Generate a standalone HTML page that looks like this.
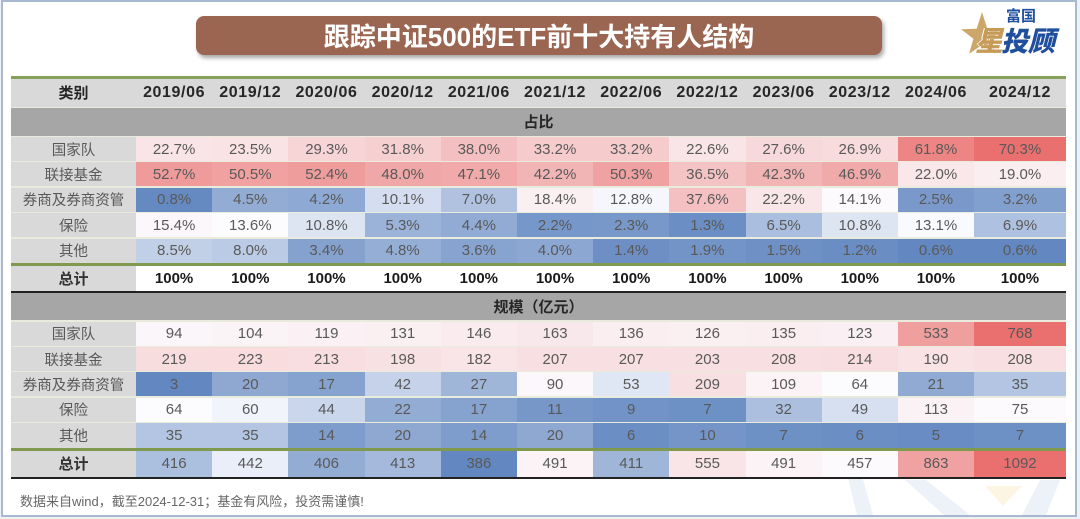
<!DOCTYPE html>
<html><head><meta charset="utf-8">
<style>
html,body{margin:0;padding:0;width:1080px;height:519px;overflow:hidden;background:#eef1f6;}
*{box-sizing:border-box;}
.frame{position:absolute;left:1px;top:0px;width:1076px;height:517px;border:2px solid #a8b8cf;background:#fff;}
.abs{position:absolute;}
.row{position:absolute;left:11px;width:1055px;display:grid;grid-template-columns:125px repeat(11,76.2px) 91.8px;}
.row>div{display:flex;align-items:center;justify-content:center;white-space:nowrap;font-family:"Liberation Sans","Noto Sans CJK SC",sans-serif;font-size:15px;color:#595959;}
.row>div.lab{background:#d9d9d9;font-size:14.5px;color:#595959;}
.hdr>div{background:#d9d9d9;font-weight:bold;font-size:16px;letter-spacing:0.6px;color:#262626;}
.hdr>div.lab{font-size:15px;color:#262626;font-weight:bold;letter-spacing:0;}
.tot>div{background:#fff;font-weight:bold;color:#1a1a1a;}
.tot>div.lab{font-weight:bold;color:#333;font-size:15px;}
.tot2>div.lab{font-weight:bold;color:#333;font-size:15px;}
.sec{position:absolute;left:11px;width:1055px;background:#a6a6a6;display:flex;align-items:center;justify-content:center;font-family:"Liberation Sans","Noto Sans CJK SC",sans-serif;font-weight:bold;font-size:15px;color:#262626;}
.line{position:absolute;left:11px;width:1055px;}
</style></head><body>
<div class="frame"></div>

<!-- watermark -->
<svg class="abs" style="left:0;top:0" width="1080" height="519">
<polygon points="848,478 862,476 873,515 857,515" fill="#edf1f8"/>
<polygon points="905,480 926,480 970,515 944,515" fill="#edf1f8"/>
<polygon points="985,486 1022,486 1003,506" fill="#fdf5e4"/>
<polygon points="1040,480 1060,480 1046,515 1022,515" fill="#edf1f8"/>
</svg>

<!-- title banner -->
<div class="abs" style="left:196px;top:16px;width:686px;height:39px;background:#9b6651;border-radius:8px;box-shadow:2px 3px 4px rgba(0,0,0,0.35);display:flex;align-items:center;justify-content:center;font-family:'Liberation Sans','Noto Sans CJK SC',sans-serif;font-weight:bold;font-size:26px;color:#fff;">跟踪中证500的ETF前十大持有人结构</div>

<!-- logo -->
<svg class="abs" style="left:0;top:0" width="1080" height="70">
<polygon points="982,12 987.3,28.7 1002.9,29.2 990.6,38.8 994.9,53.8 982,45 969.1,53.8 973.4,38.8 961.1,29.2 976.7,28.7" fill="#cda76a"/>
</svg>
<div class="abs" style="left:1006px;top:7px;font-family:'Noto Sans CJK SC',sans-serif;font-weight:bold;font-size:15px;line-height:18px;color:#1f4f9d;">富国</div>
<div class="abs" style="left:975px;top:25px;font-family:'Noto Sans CJK SC',sans-serif;font-weight:900;font-size:28px;line-height:30px;color:#c59b57;font-style:italic;text-shadow:1px 0 0 #fff,-1px 0 0 #fff;">星</div>
<div class="abs" style="left:1001px;top:25px;font-family:'Noto Sans CJK SC',sans-serif;font-weight:900;font-size:27px;line-height:30px;color:#1f4f9d;font-style:italic;">投顾</div>

<!-- table background for separators -->
<div class="line" style="top:78px;height:399px;background:#e9ecdc;"></div>

<!-- header -->
<div class="line" style="top:76px;height:2.5px;background:#86a05a;"></div>
<div class="row hdr" style="top:78.5px;height:28px;">
<div class="lab">类别</div><div>2019/06</div><div>2019/12</div><div>2020/06</div><div>2020/12</div><div>2021/06</div><div>2021/12</div><div>2022/06</div><div>2022/12</div><div>2023/06</div><div>2023/12</div><div>2024/06</div><div>2024/12</div>
</div>

<div class="sec" style="top:108px;height:27.5px;">占比</div>

<div class="row" style="top:137px;height:24px;">
<div class="lab">国家队</div>
<div style="background:#f9e5e7">22.7%</div><div style="background:#f9e3e5">23.5%</div><div style="background:#f7d5d6">29.3%</div><div style="background:#f6cfd0">31.8%</div><div style="background:#f4bfc0">38.0%</div><div style="background:#f5cbcc">33.2%</div><div style="background:#f5cbcc">33.2%</div><div style="background:#f9e5e8">22.6%</div><div style="background:#f7d9db">27.6%</div><div style="background:#f8dbdd">26.9%</div><div style="background:#ec8584">61.8%</div><div style="background:#e9706e">70.3%</div>
</div>
<div class="row" style="top:162.4px;height:24px;">
<div class="lab">联接基金</div>
<div style="background:#ef9b9b">52.7%</div><div style="background:#f0a1a0">50.5%</div><div style="background:#ef9c9c">52.4%</div><div style="background:#f0a7a7">48.0%</div><div style="background:#f1a9a9">47.1%</div><div style="background:#f2b5b6">42.2%</div><div style="background:#f0a1a1">50.3%</div><div style="background:#f4c3c4">36.5%</div><div style="background:#f2b5b5">42.3%</div><div style="background:#f1aaaa">46.9%</div><div style="background:#f9e7e9">22.0%</div><div style="background:#faeef1">19.0%</div>
</div>
<div class="row" style="top:187.8px;height:24px;">
<div class="lab">券商及券商资管</div>
<div style="background:#658ac2">0.8%</div><div style="background:#92acd4">4.5%</div><div style="background:#8ea9d3">4.2%</div><div style="background:#d5def0">10.1%</div><div style="background:#b0c2e0">7.0%</div><div style="background:#faf0f2">18.4%</div><div style="background:#f5f7fc">12.8%</div><div style="background:#f4c0c1">37.6%</div><div style="background:#f9e6e9">22.2%</div><div style="background:#fcfafd">14.1%</div><div style="background:#7a99ca">2.5%</div><div style="background:#82a0ce">3.2%</div>
</div>
<div class="row" style="top:213.2px;height:24px;">
<div class="lab">保险</div>
<div style="background:#fbf7fa">15.4%</div><div style="background:#fcfbfe">13.6%</div><div style="background:#dde5f3">10.8%</div><div style="background:#9bb3d8">5.3%</div><div style="background:#91abd4">4.4%</div><div style="background:#7697c9">2.2%</div><div style="background:#7798c9">2.3%</div><div style="background:#6b8ec4">1.3%</div><div style="background:#aabee0">6.5%</div><div style="background:#dde5f3">10.8%</div><div style="background:#f9fafe">13.1%</div><div style="background:#afc1e0">6.9%</div>
</div>
<div class="row" style="top:238.6px;height:24.4px;">
<div class="lab">其他</div>
<div style="background:#c2d0e7">8.5%</div><div style="background:#bccbe5">8.0%</div><div style="background:#85a2cf">3.4%</div><div style="background:#95aed5">4.8%</div><div style="background:#87a3d0">3.6%</div><div style="background:#8ca7d2">4.0%</div><div style="background:#6d8fc5">1.4%</div><div style="background:#7394c7">1.9%</div><div style="background:#6e90c5">1.5%</div><div style="background:#6a8ec4">1.2%</div><div style="background:#6388c1">0.6%</div><div style="background:#6388c1">0.6%</div>
</div>
<div class="line" style="top:263px;height:3px;background:#7f9a4e;"></div>
<div class="row tot" style="top:266px;height:24.5px;">
<div class="lab">总计</div>
<div>100%</div><div>100%</div><div>100%</div><div>100%</div><div>100%</div><div>100%</div><div>100%</div><div>100%</div><div>100%</div><div>100%</div><div>100%</div><div>100%</div>
</div>
<div class="line" style="top:290.5px;height:2px;background:#222;"></div>

<div class="sec" style="top:292.5px;height:27.5px;">规模（亿元）</div>

<div class="row" style="top:321.6px;height:24px;">
<div class="lab">国家队</div>
<div style="background:#fbf6f9">94</div><div style="background:#fbf4f7">104</div><div style="background:#fbf1f4">119</div><div style="background:#faeff1">131</div><div style="background:#faecee">146</div><div style="background:#f9e8eb">163</div><div style="background:#faeef0">136</div><div style="background:#faf0f2">126</div><div style="background:#faeef0">135</div><div style="background:#faf0f3">123</div><div style="background:#ef9f9e">533</div><div style="background:#e9706e">768</div>
</div>
<div class="row" style="top:347px;height:24px;">
<div class="lab">联接基金</div>
<div style="background:#f8dddf">219</div><div style="background:#f8dcde">223</div><div style="background:#f8dee0">213</div><div style="background:#f8e1e3">198</div><div style="background:#f9e4e7">182</div><div style="background:#f8e0e2">207</div><div style="background:#f8e0e2">207</div><div style="background:#f8e0e2">203</div><div style="background:#f8dfe1">208</div><div style="background:#f8dee0">214</div><div style="background:#f9e3e5">190</div><div style="background:#f8dfe1">208</div>
</div>
<div class="row" style="top:372.4px;height:24px;">
<div class="lab">券商及券商资管</div>
<div style="background:#6388c1">3</div><div style="background:#8ea8d2">20</div><div style="background:#86a3cf">17</div><div style="background:#c5d2e9">42</div><div style="background:#9fb6d9">27</div><div style="background:#fbf7fa">90</div><div style="background:#e0e7f4">53</div><div style="background:#f8dfe1">209</div><div style="background:#fbf3f6">109</div><div style="background:#fcfcff">64</div><div style="background:#90aad3">21</div><div style="background:#b3c5e2">35</div>
</div>
<div class="row" style="top:397.8px;height:24px;">
<div class="lab">保险</div>
<div style="background:#fcfcff">64</div><div style="background:#f2f4fb">60</div><div style="background:#cad6eb">44</div><div style="background:#93acd4">22</div><div style="background:#86a3cf">17</div><div style="background:#7797c9">11</div><div style="background:#7293c7">9</div><div style="background:#6d90c5">7</div><div style="background:#acbfdf">32</div><div style="background:#d6e0f0">49</div><div style="background:#fbf2f5">113</div><div style="background:#fcfafd">75</div>
</div>
<div class="row" style="top:423.2px;height:24.8px;">
<div class="lab">其他</div>
<div style="background:#b3c5e2">35</div><div style="background:#b3c5e2">35</div><div style="background:#7f9dcc">14</div><div style="background:#8ea8d2">20</div><div style="background:#7f9dcc">14</div><div style="background:#8ea8d2">20</div><div style="background:#6b8ec4">6</div><div style="background:#7595c8">10</div><div style="background:#6d90c5">7</div><div style="background:#6b8ec4">6</div><div style="background:#688cc3">5</div><div style="background:#6d90c5">7</div>
</div>
<div class="line" style="top:448px;height:3px;background:#7f9a4e;"></div>
<div class="row tot2" style="top:451px;height:25.5px;">
<div class="lab">总计</div>
<div style="background:#abbfde">416</div><div style="background:#eaeef8">442</div><div style="background:#93acd4">406</div><div style="background:#a4b9db">413</div><div style="background:#6388c1">386</div><div style="background:#fbf3f6">491</div><div style="background:#9fb6d9">411</div><div style="background:#f9e5e7">555</div><div style="background:#fbf3f6">491</div><div style="background:#fcfafd">457</div><div style="background:#f0a2a2">863</div><div style="background:#e9706e">1092</div>
</div>
<div class="line" style="top:476.5px;height:2px;background:#222;"></div>

<div class="abs" style="left:20px;top:493px;font-family:'Liberation Sans','Noto Sans CJK SC',sans-serif;font-size:13px;line-height:18px;color:#666;white-space:nowrap;">数据来自wind，截至2024-12-31；基金有风险，投资需谨慎!</div>
</body></html>
